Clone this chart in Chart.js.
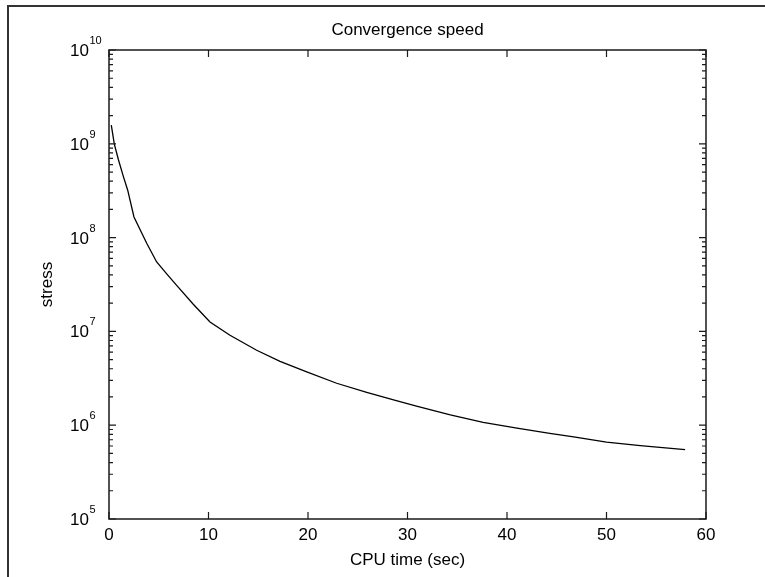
<!DOCTYPE html>
<html>
<head>
<meta charset="utf-8">
<title>Convergence speed</title>
<script src="https://cdn.jsdelivr.net/npm/chart.js@4/dist/chart.umd.min.js"></script>
<style>
  html, body { margin:0; padding:0; background:#fff; }
  #wrap { width:765px; height:577px; }
</style>
</head>
<body>
<div id="wrap"><canvas id="chart" width="765" height="577"></canvas></div>
<script>
/* values */
const cpuTime = [0.23, 0.53, 0.94, 1.44, 1.88, 2.51, 3.79, 4.79, 5.8, 6.8, 8.47, 10.15, 12.16,
  14.84, 17.19, 19.87, 22.88, 25.9, 28.6, 30.9, 34.3, 37.6, 41.0, 44.3, 46.7, 50.0, 53.4, 57.9];
const stress = [1.58e9, 1.0e9, 6.8e8, 4.5e8, 3.2e8, 1.66e8, 8.7e7, 5.5e7, 4.1e7, 3.1e7, 1.95e7, 1.26e7, 9.1e6,
  6.3e6, 4.8e6, 3.7e6, 2.8e6, 2.24e6, 1.86e6, 1.6e6, 1.29e6, 1.07e6, 9.3e5, 8.2e5, 7.5e5, 6.6e5, 6.05e5, 5.5e5];
const xTicks = [0, 10, 20, 30, 40, 50, 60];
const yExponents = [5, 6, 7, 8, 9, 10];

const FONT = "'Liberation Sans', Arial, sans-serif";

// matlab look: outer frame, boxed axes, inward ticks, 10^n labels
const matlabAxes = {
  id: 'matlabAxes',
  beforeDraw(chart){
    const {ctx, width, height} = chart;
    ctx.save();
    ctx.fillStyle = '#fff';
    ctx.fillRect(0, 0, width, height);
    ctx.strokeStyle = '#333';
    ctx.lineWidth = 2;
    ctx.beginPath();
    ctx.moveTo(8, height); ctx.lineTo(8, 6); ctx.lineTo(width, 6);
    ctx.stroke();
    ctx.restore();
  },
  afterDraw(chart){
    const {ctx, chartArea:a, scales:{x, y}} = chart;
    ctx.save();
    ctx.strokeStyle = '#1a1a1a';
    ctx.lineWidth = 1.5;
    ctx.strokeRect(a.left, a.top, a.right - a.left, a.bottom - a.top);

    ctx.lineWidth = 1.2;
    ctx.beginPath();
    xTicks.forEach(v=>{
      const px = x.getPixelForValue(v);
      ctx.moveTo(px, a.bottom); ctx.lineTo(px, a.bottom - 7);
      ctx.moveTo(px, a.top); ctx.lineTo(px, a.top + 7);
    });
    yExponents.forEach(e=>{
      for(let m = 1; m <= 9; m++){
        if(e === 10 && m > 1) break;
        const py = y.getPixelForValue(m * Math.pow(10, e));
        const len = m === 1 ? 7 : 4;
        ctx.moveTo(a.left, py); ctx.lineTo(a.left + len, py);
        ctx.moveTo(a.right, py); ctx.lineTo(a.right - len, py);
      }
    });
    ctx.stroke();

    ctx.fillStyle = '#000';
    ctx.textAlign = 'left';
    ctx.textBaseline = 'alphabetic';
    yExponents.forEach(e=>{
      const py = y.getPixelForValue(Math.pow(10, e));
      ctx.font = '17px ' + FONT;
      ctx.fillText('10', 70, py + 6);
      const w = ctx.measureText('10').width;
      ctx.font = '11px ' + FONT;
      ctx.fillText(String(e), 70 + w + 0.5, py - 6);
    });
    ctx.restore();
  }
};

function main(){
  const pts = cpuTime.map((t, i) => ({x: t, y: stress[i]}));
  new Chart(document.getElementById('chart'), {
    type: 'line',
    data: { datasets: [{ data: pts, borderColor: '#000', borderWidth: 1.3, pointRadius: 0, tension: 0, fill: false }] },
    options: {
      responsive: false, animation: false, devicePixelRatio: 1,
      layout: { padding: { left: 0, top: 0, right: 59, bottom: 0 } },
      plugins: {
        legend: { display: false },
        tooltip: { enabled: false },
        title: {
          display: true, text: 'Convergence speed', fullSize: false, color: '#000',
          font: { family: FONT, size: 17, weight: 'normal' },
          padding: { top: 20, bottom: 9.6 }
        }
      },
      scales: {
        x: {
          type: 'linear', min: 0, max: 60,
          grid: { display: false, drawTicks: false },
          border: { display: false },
          ticks: { stepSize: 10, color: '#000', padding: 6, font: { family: FONT, size: 17 } },
          title: { display: true, text: 'CPU time (sec)', color: '#000', font: { family: FONT, size: 17 }, padding: { top: 0, bottom: 6 } },
          afterFit(s){ s.height = 58; }
        },
        y: {
          type: 'logarithmic', min: 1e5, max: 1e10,
          grid: { display: false, drawTicks: false },
          border: { display: false },
          ticks: { display: false },
          title: { display: true, text: 'stress', color: '#000', font: { family: FONT, size: 17 }, padding: { top: 37, bottom: 0 } },
          afterFit(s){ s.width = 109; }
        }
      }
    },
    plugins: [matlabAxes]
  });
}
document.addEventListener('DOMContentLoaded', main);
</script>
</body>
</html>
